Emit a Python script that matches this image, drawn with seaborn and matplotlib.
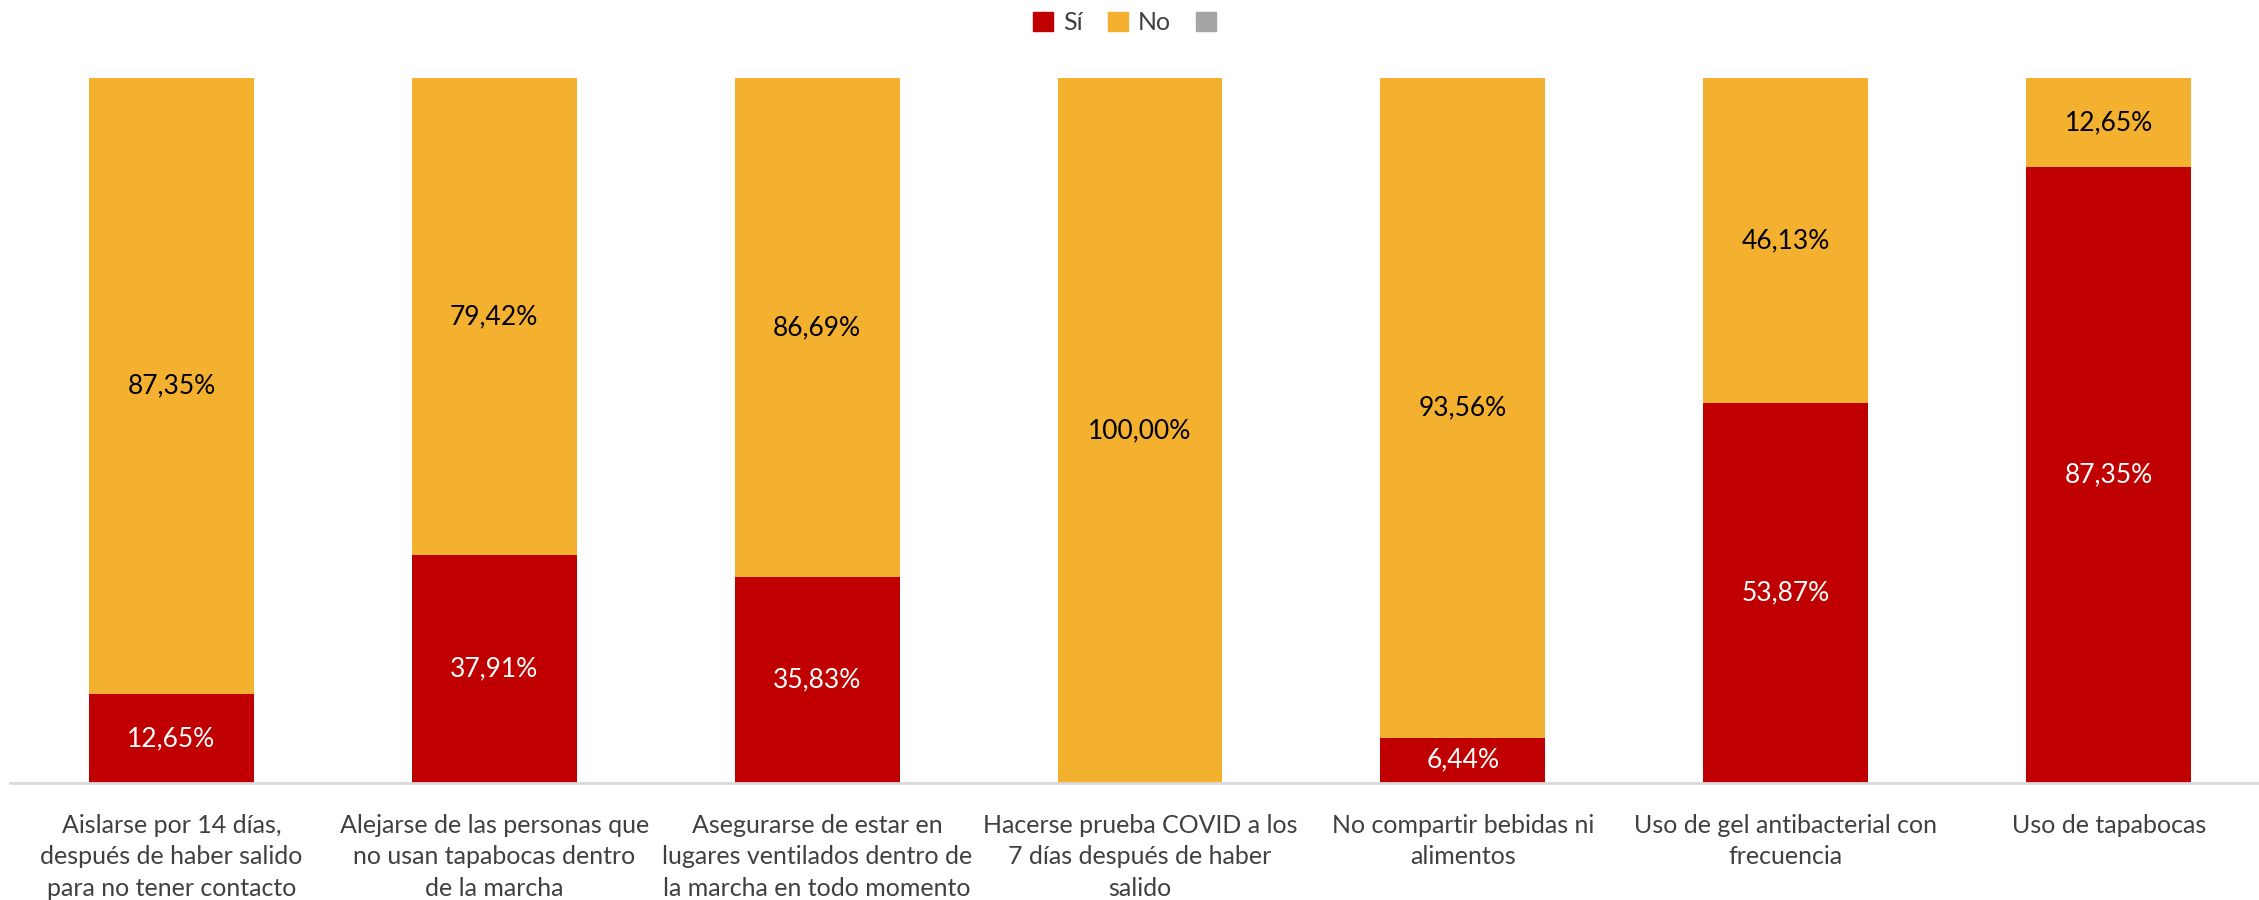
import matplotlib.pyplot as plt
import seaborn as sns
import pandas as pd
from matplotlib.patches import Patch

# Datos
categorias = [
    "Aislarse por 14 días,\ndespués de haber salido\npara no tener contacto",
    "Alejarse de las personas que\nno usan tapabocas dentro\nde la marcha",
    "Asegurarse de estar en\nlugares ventilados dentro de\nla marcha en todo momento",
    "Hacerse prueba COVID a los\n7 días después de haber\nsalido",
    "No compartir bebidas ni\nalimentos",
    "Uso de gel antibacterial con\nfrecuencia",
    "Uso de tapabocas",
]
si = [12.65, 37.91, 35.83, 0.0, 6.44, 53.87, 87.35]
no = [87.35, 79.42, 86.69, 100.00, 93.56, 46.13, 12.65]

ROJO = "#C00000"
AMARILLO = "#F4B02F"
GRIS = "#A5A5A5"
TEXTO = "#404040"

sns.set_style("white")
plt.rcParams["font.family"] = ["Lato", "DejaVu Sans"]

df = pd.DataFrame({"cat": categorias, "si": si, "no": no})
df["total"] = df["si"] + df["no"]
df["si_pct"] = df["si"] / df["total"]
df["no_pct"] = df["no"] / df["total"]
df["cum"] = df["si_pct"] + df["no_pct"]

fig = plt.figure(figsize=(22.59, 9), dpi=100)
ax = fig.add_axes([0.0044, 0.13, 1.0005, 0.7833])

ancho = 0.511
sns.barplot(data=df, x="cat", y="cum", color=AMARILLO, width=ancho, ax=ax,
            saturation=1, linewidth=0)
sns.barplot(data=df, x="cat", y="si_pct", color=ROJO, width=ancho, ax=ax,
            saturation=1, linewidth=0)

# Etiquetas de datos
for i, row in df.iterrows():
    if row["si"] > 0:
        ax.text(i, row["si_pct"] / 2, f"{row['si']:.2f}%".replace(".", ","),
                ha="center", va="center", color="white", fontsize=19)
    if row["no"] > 0:
        ax.text(i, row["si_pct"] + row["no_pct"] / 2,
                f"{row['no']:.2f}%".replace(".", ","),
                ha="center", va="center", color="black", fontsize=19)

ax.set_xlim(-0.5, len(categorias) - 0.5)
ax.set_ylim(0, 1)
ax.set_xlabel("")
ax.set_ylabel("")
ax.set_yticks([])
ax.tick_params(axis="x", length=0, pad=22, labelsize=18, labelcolor=TEXTO)
for lbl in ax.get_xticklabels():
    lbl.set_linespacing(1.45)
for s in ["top", "left", "right"]:
    ax.spines[s].set_visible(False)
ax.spines["bottom"].set_color("#D9D9D9")
ax.spines["bottom"].set_linewidth(2)

handles = [Patch(color=ROJO, label="Sí"), Patch(color=AMARILLO, label="No"),
           Patch(color=GRIS, label="")]
fig.legend(handles=handles, loc="center", bbox_to_anchor=(0.5, 0.975), ncol=3,
           frameon=False, fontsize=18, handlelength=0.8, handleheight=0.8,
           handletextpad=0.4, columnspacing=1.0, labelcolor=TEXTO)

fig.savefig("out.png", dpi=100)
